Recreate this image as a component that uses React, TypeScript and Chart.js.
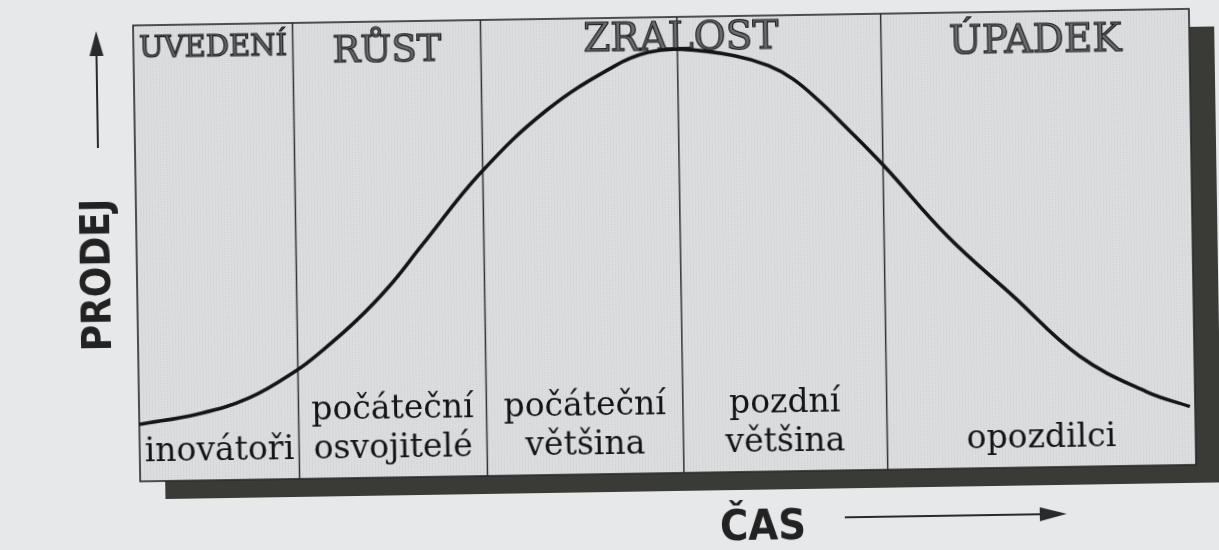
import React, { useEffect, useRef } from "react";
import { Chart, registerables } from "chart.js";

Chart.register(...registerables);

// ---- data ----
const timeAxis = [0, 5.6, 10.4, 14.9, 17.4, 20.7, 23.9, 27.1, 32.7, 39.1, 45.5, 48.7, 51.9, 56.9, 60.1, 62.4, 64.8, 67.2, 70.9, 76.8, 82.9, 89.1, 95.4, 99.5];
const salesValues = [12.5, 14.6, 17.9, 23.7, 28.0, 34.5, 42.0, 51.0, 66.5, 80.1, 89.4, 92.3, 92.9, 91.3, 89.0, 86.0, 81.2, 75.6, 66.6, 51.0, 37.7, 24.3, 16.2, 12.8];

const stageNames = ["UVEDENÍ", "RŮST", "ZRALOST", "ÚPADEK"];
const stageBounds = [0, 15.1, 32.9, 70.8, 100];

const adopterNames = [["inovátoři"], ["počáteční", "osvojitelé"], ["počáteční", "většina"], ["pozdní", "většina"], ["opozdilci"]];
const adopterBounds = [0, 15.1, 32.9, 51.5, 70.8, 100];

const yAxisTitle = "PRODEJ";
const xAxisTitle = "ČAS";

// ---- styles ----
const PAGE_BG = "#e7e8ea";
const BOX_BG = "#dcdddf";
const SHADOW = "#3a3a36";
const INK = "#141414";
const stageFontSizes = [29, 37, 39, 39];
const stageBaselines = [32, 40, 33, 41];

const decor = {
  id: "decor",
  beforeDraw(chart: any) {
    const { ctx, chartArea: a, scales } = chart;
    const xs = scales.x;
    const w = a.right - a.left;
    const h = a.bottom - a.top;
    ctx.save();
    ctx.fillStyle = PAGE_BG;
    ctx.fillRect(0, 0, chart.width, chart.height);

    // shadow
    ctx.fillStyle = SHADOW;
    ctx.fillRect(a.left + 25, a.top + 18, w, h);

    // box
    ctx.fillStyle = BOX_BG;
    ctx.fillRect(a.left, a.top, w, h);
    // fine vertical halftone texture
    const pc = document.createElement("canvas");
    pc.width = 3;
    pc.height = 2;
    const pctx = pc.getContext("2d")!;
    pctx.fillStyle = BOX_BG;
    pctx.fillRect(0, 0, 3, 2);
    pctx.fillStyle = "#cfd0d2";
    pctx.fillRect(0, 0, 1, 1);
    const pat = ctx.createPattern(pc, "repeat");
    if (pat) {
      ctx.fillStyle = pat;
      ctx.fillRect(a.left, a.top, w, h);
    }

    // dividers
    ctx.strokeStyle = "#333333";
    ctx.lineWidth = 1.5;
    adopterBounds.slice(1, -1).forEach((b) => {
      const px = xs.getPixelForValue(b);
      ctx.beginPath();
      ctx.moveTo(px, a.top);
      ctx.lineTo(px, a.bottom);
      ctx.stroke();
    });

    // border
    ctx.strokeStyle = "#2a2a2a";
    ctx.lineWidth = 1.6;
    ctx.strokeRect(a.left, a.top, w, h);

    // stage titles (engraved look)
    ctx.textAlign = "center";
    ctx.textBaseline = "alphabetic";
    stageNames.forEach((name, i) => {
      const cx = (xs.getPixelForValue(stageBounds[i]) + xs.getPixelForValue(stageBounds[i + 1])) / 2;
      ctx.font = `${stageFontSizes[i]}px "DejaVu Serif", "Liberation Serif", serif`;
      ctx.fillStyle = "#6a6b6d";
      ctx.fillText(name, cx, a.top + stageBaselines[i]);
      ctx.strokeStyle = "#1e1e1e";
      ctx.lineWidth = 1.2;
      ctx.strokeText(name, cx, a.top + stageBaselines[i]);
    });

    // adopter labels
    ctx.font = `33px "DejaVu Serif", "Liberation Serif", serif`;
    ctx.fillStyle = INK;
    adopterNames.forEach((lines, i) => {
      const cx = (xs.getPixelForValue(adopterBounds[i]) + xs.getPixelForValue(adopterBounds[i + 1])) / 2;
      const last = a.bottom - 20;
      lines.forEach((ln, j) => {
        ctx.fillText(ln, cx, last - (lines.length - 1 - j) * 39);
      });
    });

    // axis titles
    ctx.fillStyle = "#222222";
    ctx.font = `bold 40px "Liberation Sans Narrow", "DejaVu Sans Condensed", "Roboto Condensed", sans-serif`;
    ctx.textBaseline = "middle";
    ctx.save();
    ctx.translate(a.left - 37, a.top + 249);
    ctx.rotate(-Math.PI / 2);
    ctx.fillText(yAxisTitle, 0, 0);
    ctx.restore();
    ctx.font = `bold 43px "Liberation Sans Narrow", "DejaVu Sans Condensed", "Roboto Condensed", sans-serif`;
    ctx.fillText(xAxisTitle, 759, a.bottom + 57);

    // arrows
    ctx.strokeStyle = "#2a2a2a";
    ctx.fillStyle = "#2a2a2a";
    ctx.lineWidth = 2;
    // up arrow
    const ax = a.left - 37;
    ctx.beginPath();
    ctx.moveTo(ax, a.top + 122);
    ctx.lineTo(ax, a.top + 28);
    ctx.stroke();
    ctx.beginPath();
    ctx.moveTo(ax, a.top + 5);
    ctx.lineTo(ax - 7, a.top + 30);
    ctx.lineTo(ax + 7, a.top + 30);
    ctx.closePath();
    ctx.fill();
    // right arrow
    const ay = a.bottom + 47;
    ctx.beginPath();
    ctx.moveTo(841, ay);
    ctx.lineTo(1040, ay);
    ctx.stroke();
    ctx.beginPath();
    ctx.moveTo(1063, ay);
    ctx.lineTo(1036, ay - 7);
    ctx.lineTo(1036, ay + 7);
    ctx.closePath();
    ctx.fill();

    ctx.restore();
  },
};

export default function App() {
  const ref = useRef<HTMLCanvasElement | null>(null);
  useEffect(() => {
    if (!ref.current) return;
    const chart = new Chart(ref.current, {
      type: "line",
      data: {
        datasets: [
          {
            label: yAxisTitle,
            data: timeAxis.map((t, i) => ({ x: t, y: salesValues[i] })),
            borderColor: "#151515",
            borderWidth: 3.6,
            pointRadius: 0,
            tension: 0.4,
            fill: false,
          },
        ],
      },
      options: {
        responsive: false,
        animation: false,
        layout: { padding: { left: 137, right: 26, top: 18, bottom: 76 } },
        scales: {
          x: { type: "linear", min: 0, max: 100, display: false },
          y: { type: "linear", min: 0, max: 100, display: false },
        },
        plugins: { legend: { display: false }, tooltip: { enabled: false } },
      },
      plugins: [decor],
    } as any);
    return () => chart.destroy();
  }, []);

  return (
    <div style={{ position: "fixed", left: 0, top: 0, width: 1219, height: 550, background: PAGE_BG, overflow: "hidden" }}>
      <div style={{ width: 1219, height: 550, transform: "rotate(-0.9deg)", transformOrigin: "50% 50%" }}>
        <canvas ref={ref} width={1219} height={550} style={{ display: "block" }} />
      </div>
    </div>
  );
}
